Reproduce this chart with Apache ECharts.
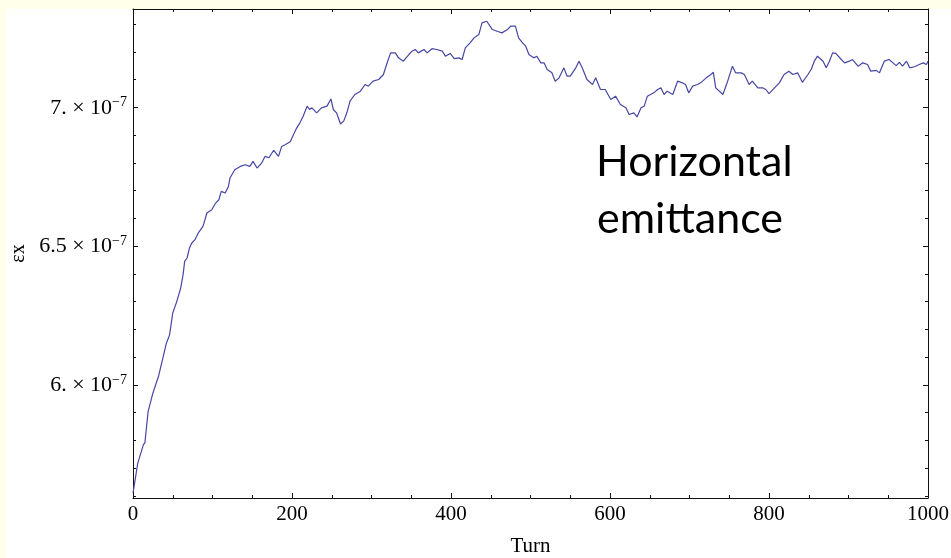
<!DOCTYPE html>
<html><head><meta charset="utf-8">
<script src="https://cdn.jsdelivr.net/npm/echarts@6/dist/echarts.min.js"></script>
<style>
html,body{margin:0;padding:0;background:#FFFFEA;overflow:hidden;}
#bg{position:absolute;left:6px;top:9px;width:945px;height:549px;background:#ffffff;}
#chart{position:absolute;left:0;top:0;width:951px;height:558px;}
</style></head><body>
<div id="bg"></div><div id="chart"></div>
<script>
// Turn number
const turns = [0,6,13,15,19,25,32,38,42,46,50,55,60,63,65,68,71,74,78,82,88,93,99,104,108,111,116,120,122,128,135,141,147,151,156,162,166,171,177,183,187,192,198,200,206,210,214,219,222,225,231,237,244,249,252,256,261,265,269,273,279,286,292,296,302,309,315,319,324,330,334,340,347,351,355,359,366,370,376,382,389,393,399,404,410,414,418,424,429,435,439,445,447,452,458,464,471,475,481,485,490,494,498,504,508,513,517,521,527,531,536,542,546,550,557,561,565,571,578,582,588,594,601,607,613,620,624,630,634,639,643,647,651,655,660,664,668,672,679,685,691,695,699,704,710,714,721,727,730,733,742,748,754,758,765,769,775,779,786,792,796,800,807,813,819,825,830,836,842,849,853,857,861,868,872,876,880,884,891,895,901,905,912,918,924,928,935,939,945,951,956,960,964,968,973,977,983,989,994,998,1000];
// Horizontal emittance, in units of 1e-7
const emittance = [5.610,5.718,5.784,5.792,5.904,5.970,6.030,6.102,6.150,6.180,6.259,6.300,6.349,6.397,6.445,6.457,6.493,6.511,6.523,6.547,6.571,6.619,6.631,6.655,6.667,6.697,6.691,6.715,6.745,6.775,6.787,6.793,6.787,6.805,6.781,6.800,6.823,6.818,6.845,6.823,6.859,6.866,6.877,6.890,6.926,6.944,6.968,7.004,6.992,6.998,6.980,6.998,7.004,7.030,6.992,6.980,6.940,6.950,6.980,7.022,7.046,7.058,7.082,7.076,7.094,7.100,7.118,7.154,7.196,7.196,7.178,7.166,7.190,7.202,7.208,7.196,7.208,7.196,7.211,7.208,7.202,7.184,7.194,7.175,7.178,7.172,7.214,7.232,7.250,7.262,7.304,7.310,7.316,7.280,7.274,7.268,7.280,7.292,7.292,7.250,7.232,7.220,7.190,7.178,7.184,7.160,7.160,7.136,7.124,7.094,7.106,7.142,7.112,7.112,7.142,7.166,7.142,7.100,7.082,7.106,7.064,7.064,7.028,7.040,7.010,6.998,6.974,6.980,6.965,6.998,7.004,7.040,7.046,7.052,7.064,7.070,7.046,7.058,7.046,7.094,7.088,7.082,7.052,7.076,7.082,7.088,7.106,7.118,7.126,7.070,7.046,7.094,7.148,7.124,7.124,7.118,7.082,7.094,7.070,7.070,7.064,7.049,7.070,7.088,7.118,7.130,7.118,7.124,7.090,7.118,7.136,7.166,7.184,7.166,7.142,7.166,7.196,7.194,7.172,7.160,7.166,7.172,7.148,7.160,7.154,7.130,7.133,7.124,7.166,7.172,7.160,7.150,7.162,7.148,7.166,7.142,7.146,7.154,7.160,7.154,7.166];
// Y tick values (units of 1e-7) and their mantissa labels
const yTickValues = [6, 6.5, 7];
const yTickMantissas = ['6.', '6.5', '7.'];
const yMinorTicks = [5.6,5.7,5.8,5.9,6.0,6.1,6.2,6.3,6.4,6.5,6.6,6.7,6.8,6.9,7.0,7.1,7.2,7.3];
const xAxisName = 'Turn';
const yAxisName = 'εx';
const annotation = ['Horizontal', 'emittance'];

const Y_MIN = 5.5925, Y_MAX = 7.354;
const SERIF = '"Liberation Serif","DejaVu Serif",serif';

const seriesData = turns.map((t, i) => [t, emittance[i]]);

const chart = echarts.init(document.getElementById('chart'), null, {renderer: 'canvas'});

function yMajor(pos, showLabel) {
  return {
    type: 'value', position: pos, min: Y_MIN, max: Y_MAX,
    axisLine: {show: true, lineStyle: {color: '#111', width: 1}},
    axisTick: {show: true, inside: true, length: 5, customValues: yTickValues, lineStyle: {color: '#111', width: 1}},
    axisLabel: {
      show: showLabel, customValues: yTickValues, margin: 6,
      formatter: function (v) {
        let idx = yTickValues.findIndex(t => Math.abs(t - v) < 1e-6);
        const m = idx >= 0 ? yTickMantissas[idx] : String(v);
        return '{m|' + m + ' \u00d7 10}{s|\u22127}';
      },
      rich: {
        m: {fontFamily: SERIF, fontSize: 22, color: '#000', lineHeight: 23, verticalAlign: 'bottom'},
        s: {fontFamily: SERIF, fontSize: 14, color: '#000', lineHeight: 13, verticalAlign: 'top'}
      }
    },
    splitLine: {show: false},
    name: showLabel ? yAxisName : '',
    nameLocation: 'middle', nameRotate: 90, nameGap: 103,
    nameTextStyle: {fontFamily: SERIF, fontSize: 20, color: '#000'}
  };
}
function yMinor(pos) {
  return {
    type: 'value', position: pos, min: Y_MIN, max: Y_MAX,
    axisLine: {show: false},
    axisTick: {show: true, inside: true, length: 3, customValues: yMinorTicks, lineStyle: {color: '#111', width: 1}},
    axisLabel: {show: false},
    splitLine: {show: false}
  };
}
function xAx(pos, showLabel) {
  return {
    type: 'value', position: pos, min: 0, max: 1000, interval: 200,
    axisLine: {show: true, onZero: false, lineStyle: {color: '#111', width: 1}},
    axisTick: {show: true, inside: true, length: 5, lineStyle: {color: '#111', width: 1}},
    minorTick: {show: true, splitNumber: 4, length: 3, lineStyle: {color: '#111', width: 1}},
    axisLabel: {show: showLabel, fontFamily: SERIF, fontSize: 21, color: '#000', margin: 6,
                formatter: v => String(v)},
    splitLine: {show: false}, minorSplitLine: {show: false},
    name: showLabel ? xAxisName : '',
    nameLocation: 'middle', nameGap: 38,
    nameTextStyle: {fontFamily: SERIF, fontSize: 21, color: '#000'}
  };
}

chart.setOption({
  animation: false,
  backgroundColor: 'transparent',
  grid: {left: 133, right: 23, top: 9, bottom: 60, containLabel: false, outerBoundsMode: 'none'},
  xAxis: [xAx('bottom', true), xAx('top', false)],
  yAxis: [yMajor('left', true), yMinor('left'), yMajor('right', false), yMinor('right')],
  series: [{
    type: 'line', data: seriesData, xAxisIndex: 0, yAxisIndex: 0,
    showSymbol: false, symbol: 'none', smooth: false,
    lineStyle: {color: '#4646a4', width: 1.2}
  }],
  graphic: [
    {type: 'text', left: 596, top: 141, z: 100,
     style: {text: annotation[0], fontFamily: 'Lato, "Open Sans", sans-serif', fontSize: 43, fill: '#000'}},
    {type: 'text', left: 597, top: 198, z: 100,
     style: {text: annotation[1], fontFamily: 'Lato, "Open Sans", sans-serif', fontSize: 43, fill: '#000'}}
  ]
});
</script>
</body></html>
